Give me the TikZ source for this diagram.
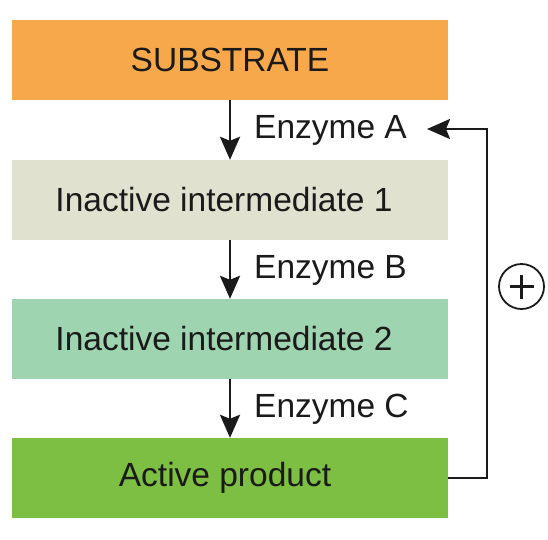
\documentclass[tikz,border=0pt]{standalone}
\usepackage{fontspec}
\setmainfont{Liberation Sans}
\usetikzlibrary{arrows.meta}
\definecolor{substr}{HTML}{F7A84B}
\definecolor{inter1}{HTML}{E1E1D0}
\definecolor{inter2}{HTML}{9ED4B0}
\definecolor{actprod}{HTML}{7DBF43}
\definecolor{ink}{HTML}{1A1A1A}
\begin{document}
\begin{tikzpicture}[x=1pt,y=-1pt,
  box/.style={minimum width=436pt,minimum height=80pt,inner sep=0pt,text=ink,font=\fontsize{33.5}{38}\selectfont},
  lbl/.style={anchor=west,inner sep=0pt,text=ink,font=\fontsize{33.5}{38}\selectfont},
  arr/.style={draw=ink,line width=2.8pt,-{Stealth[length=23pt,width=20pt,inset=4pt]}}]
\useasboundingbox (0,0) rectangle (548,539);
\node[box,fill=substr] (s) at (230,60) {SUBSTRATE};
\node[box,fill=inter1] (i1) at (230,200) {\hspace*{-12pt}Inactive intermediate 1};
\node[box,fill=inter2] (i2) at (230,339) {\hspace*{-12pt}Inactive intermediate 2};
\node[box,fill=actprod] (p) at (230,478) {\hspace*{-10pt}Active product};
\node[lbl] (ea) at (254,130) {Enzyme A};
\node[lbl] (eb) at (254,270) {Enzyme B};
\node[lbl] (ec) at (254,409) {Enzyme C};
\draw[arr] (s.south) -- (i1.north);
\draw[arr] (i1.south) -- (i2.north);
\draw[arr] (i2.south) -- (p.north);
\coordinate (fa) at (427,129);
\coordinate (fc) at (487,478);
\draw[arr] (p.east) -- (fc) |- (fa);
\node[draw=ink,circle,line width=1.8pt,minimum size=45pt,inner sep=0pt] (plus) at (521.5,286.5) {};
\draw[ink,line width=2.8pt] ([xshift=-12pt]plus.center) -- ([xshift=12pt]plus.center)
  ([yshift=-12pt]plus.center) -- ([yshift=12pt]plus.center);
\end{tikzpicture}
\end{document}
